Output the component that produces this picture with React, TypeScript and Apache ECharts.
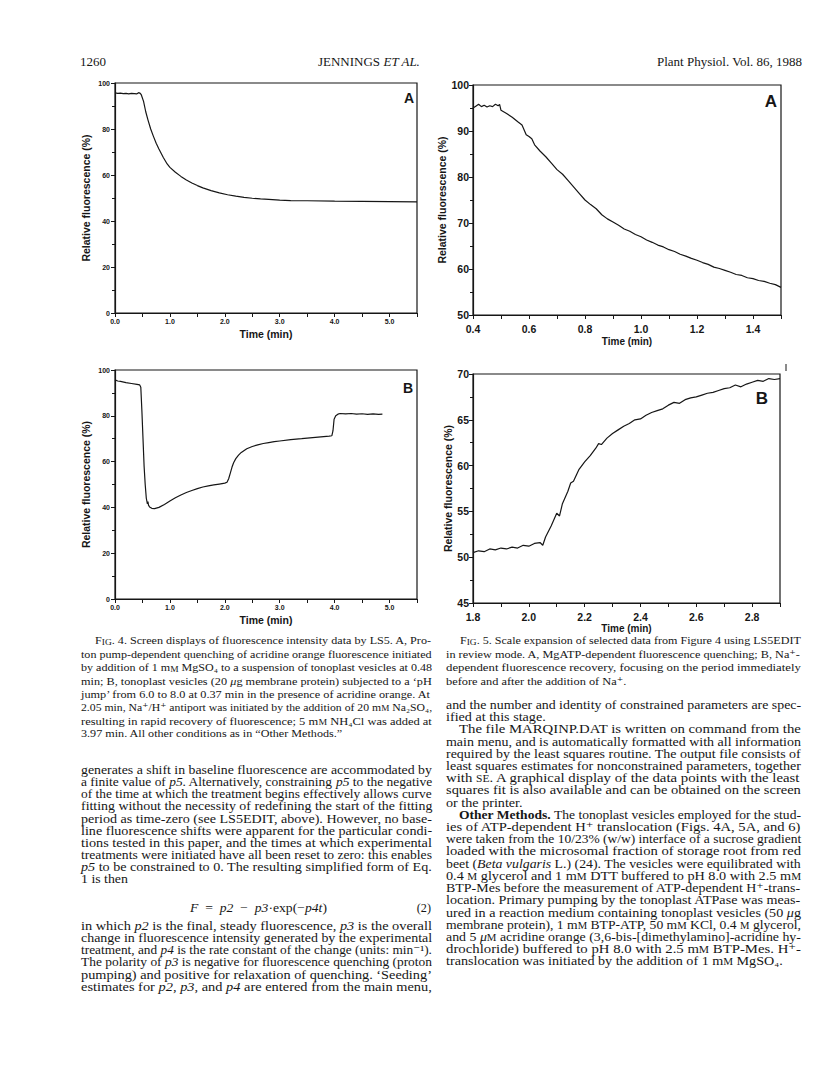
import { useEffect, useRef } from 'react';
import * as echarts from 'echarts';

// ---------- data ----------
// Fig. 4A: time (min), relative fluorescence (%)
const fig4A: [number, number][] = [
  [0.0, 95.7], [0.05, 95.5], [0.1, 95.6], [0.15, 95.4], [0.2, 95.5], [0.25, 95.3], [0.3, 95.5],
  [0.35, 95.4], [0.4, 95.3], [0.43, 95.8], [0.46, 95.5], [0.48, 94.8], [0.52, 92.0], [0.56, 87.5],
  [0.6, 84.0], [0.65, 80.0], [0.7, 76.8], [0.75, 73.8], [0.8, 71.3], [0.88, 67.6], [0.95, 64.8],
  [1.0, 63.3], [1.1, 61.2], [1.2, 59.4], [1.3, 57.8], [1.4, 56.5], [1.5, 55.4], [1.6, 54.4],
  [1.75, 53.2], [1.9, 52.2], [2.05, 51.4], [2.2, 50.8], [2.35, 50.3], [2.5, 49.9], [2.65, 49.6],
  [2.8, 49.4], [3.0, 49.1], [3.2, 48.9], [3.5, 48.8], [4.0, 48.6], [4.5, 48.5], [5.0, 48.4], [5.5, 48.3],
];

// Fig. 4B
const fig4B: [number, number][] = [
  [0.0, 95.7], [0.05, 95.2], [0.1, 95.0], [0.2, 94.5], [0.3, 94.1], [0.4, 93.7], [0.45, 93.5],
  [0.47, 92.5], [0.49, 82.0], [0.51, 70.0], [0.53, 58.0], [0.55, 50.0], [0.57, 44.0], [0.59, 41.5],
  [0.6, 42.5], [0.61, 41.0], [0.63, 40.2], [0.67, 39.6], [0.72, 39.5], [0.8, 40.0], [0.9, 41.3],
  [1.0, 42.8], [1.1, 44.2], [1.2, 45.4], [1.3, 46.5], [1.4, 47.4], [1.5, 48.2], [1.6, 48.9],
  [1.7, 49.4], [1.8, 49.8], [1.9, 50.2], [2.0, 50.6], [2.04, 51.0], [2.07, 52.5], [2.1, 55.0],
  [2.13, 57.5], [2.16, 59.5], [2.2, 61.3], [2.25, 62.8], [2.3, 64.0], [2.4, 65.6], [2.5, 66.6],
  [2.6, 67.3], [2.7, 67.9], [2.8, 68.3], [2.9, 68.7], [3.0, 69.0], [3.2, 69.6], [3.4, 70.0],
  [3.6, 70.5], [3.8, 70.9], [3.9, 71.1], [3.95, 71.3], [3.97, 73.5], [3.99, 78.5], [4.02, 80.0],
  [4.06, 80.7], [4.1, 81.0], [4.2, 80.8], [4.3, 81.0], [4.4, 80.7], [4.5, 80.9], [4.6, 80.6],
  [4.7, 80.8], [4.8, 80.6], [4.87, 80.7],
];

// Fig. 5A
const fig5A: [number, number][] = [
  [0.4, 95.0], [0.41, 95.4], [0.42, 95.8], [0.43, 95.3], [0.44, 95.6], [0.45, 95.2], [0.46, 95.5],
  [0.47, 95.3], [0.48, 95.8], [0.49, 95.5], [0.495, 95.8], [0.5, 94.5], [0.52, 93.8], [0.54, 93.0],
  [0.56, 92.0], [0.575, 91.3], [0.59, 89.2], [0.6, 88.8], [0.61, 88.3], [0.62, 87.0], [0.64, 85.6],
  [0.66, 84.4], [0.68, 83.0], [0.7, 81.6], [0.72, 80.6], [0.74, 79.2], [0.76, 77.8], [0.78, 76.4],
  [0.8, 75.0], [0.82, 74.0], [0.84, 73.1], [0.86, 71.8], [0.88, 70.9], [0.9, 70.2], [0.92, 69.5],
  [0.94, 68.7], [0.96, 68.2], [0.98, 67.5], [1.0, 67.0], [1.02, 66.3], [1.04, 65.8], [1.06, 65.2],
  [1.08, 64.8], [1.1, 64.2], [1.12, 63.8], [1.14, 63.2], [1.16, 62.8], [1.18, 62.3], [1.2, 61.9],
  [1.22, 61.4], [1.24, 61.0], [1.26, 60.4], [1.28, 60.1], [1.3, 59.7], [1.32, 59.3], [1.34, 58.8],
  [1.36, 58.6], [1.38, 58.1], [1.4, 57.9], [1.42, 57.5], [1.44, 57.3], [1.46, 56.9], [1.48, 56.6],
  [1.5, 56.0],
];

// Fig. 5B
const fig5B: [number, number][] = [
  [1.8, 50.5], [1.82, 50.7], [1.84, 50.6], [1.86, 50.9], [1.88, 50.8], [1.9, 51.0], [1.92, 50.9],
  [1.94, 51.1], [1.96, 51.0], [1.98, 51.3], [2.0, 51.2], [2.02, 51.5], [2.04, 51.6], [2.05, 51.3],
  [2.06, 52.2], [2.08, 53.4], [2.1, 54.8], [2.11, 54.5], [2.12, 55.8], [2.14, 57.2], [2.15, 58.1],
  [2.16, 58.3], [2.18, 59.6], [2.2, 60.4], [2.22, 61.1], [2.24, 61.9], [2.25, 62.4], [2.26, 62.3],
  [2.28, 63.0], [2.3, 63.5], [2.32, 63.9], [2.34, 64.3], [2.36, 64.6], [2.38, 65.0], [2.4, 65.1],
  [2.42, 65.5], [2.44, 65.8], [2.46, 66.0], [2.48, 66.2], [2.5, 66.6], [2.52, 66.9], [2.54, 66.8],
  [2.56, 67.2], [2.58, 67.4], [2.6, 67.5], [2.62, 67.7], [2.64, 67.9], [2.66, 68.0], [2.68, 68.2],
  [2.7, 68.4], [2.72, 68.5], [2.74, 68.8], [2.76, 68.6], [2.78, 68.9], [2.8, 69.1], [2.82, 69.3],
  [2.84, 69.2], [2.86, 69.5], [2.88, 69.4], [2.9, 69.5],
];

// axis ranges / tick steps
const fig4Time = { min: 0, max: 5.5, step: 0.5 };
const fig4Fluor = { min: 0, max: 100, step: 20 };
const fig5ATime = { min: 0.4, max: 1.5, step: 0.1 };
const fig5AFluor = { min: 50, max: 100, step: 10 };
const fig5BTime = { min: 1.8, max: 2.9, step: 0.1 };
const fig5BFluor = { min: 45, max: 70, step: 5 };

const X_NAME = 'Time (min)';
const Y_NAME = 'Relative fluorescence (%)';

// ---------- page text ----------
type Line = { t: string; nj?: boolean; ind?: number };

const caption4: Line[] = [
  { t: 'F{sc|IG}. 4. Screen displays of fluorescence intensity data by LS5. A, Pro-', ind: 14 },
  { t: 'ton pump-dependent quenching of acridine orange fluorescence initiated' },
  { t: 'by addition of 1 m{sc|M} MgSO₄ to a suspension of tonoplast vesicles at 0.48' },
  { t: 'min; B, tonoplast vesicles (20 {i|μ}g membrane protein) subjected to a ‘pH' },
  { t: 'jump’ from 6.0 to 8.0 at 0.37 min in the presence of acridine orange. At' },
  { t: '2.05 min, Na⁺/H⁺ antiport was initiated by the addition of 20 m{sc|M} Na₂SO₄,' },
  { t: 'resulting in rapid recovery of fluorescence; 5 m{sc|M} NH₄Cl was added at' },
  { t: '3.97 min. All other conditions as in “Other Methods.”', nj: true },
];

const caption5: Line[] = [
  { t: 'F{sc|IG}. 5. Scale expansion of selected data from Figure 4 using LS5EDIT', ind: 14 },
  { t: 'in review mode. A, MgATP-dependent fluorescence quenching; B, Na⁺-' },
  { t: 'dependent fluorescence recovery, focusing on the period immediately' },
  { t: 'before and after the addition of Na⁺.', nj: true },
];

const leftBody1: Line[] = [
  { t: 'generates a shift in baseline fluorescence are accommodated by' },
  { t: 'a finite value of {i|p5}. Alternatively, constraining {i|p5} to the negative' },
  { t: 'of the time at which the treatment begins effectively allows curve' },
  { t: 'fitting without the necessity of redefining the start of the fitting' },
  { t: 'period as time-zero (see LS5EDIT, above). However, no base-' },
  { t: 'line fluorescence shifts were apparent for the particular condi-' },
  { t: 'tions tested in this paper, and the times at which experimental' },
  { t: 'treatments were initiated have all been reset to zero: this enables' },
  { t: '{i|p5} to be constrained to 0. The resulting simplified form of Eq.' },
  { t: '1 is then', nj: true },
];

const equation = '{i|F}\u00a0\u00a0=\u00a0\u00a0{i|p2}\u00a0\u00a0−\u00a0\u00a0{i|p3}·exp(−{i|p4t})';
const equationNo = '(2)';

const leftBody2: Line[] = [
  { t: 'in which {i|p2} is the final, steady fluorescence, {i|p3} is the overall' },
  { t: 'change in fluorescence intensity generated by the experimental' },
  { t: 'treatment, and {i|p4} is the rate constant of the change (units: min⁻¹).' },
  { t: 'The polarity of {i|p3} is negative for fluorescence quenching (proton' },
  { t: 'pumping) and positive for relaxation of quenching. ‘Seeding’' },
  { t: 'estimates for {i|p2}, {i|p3}, and {i|p4} are entered from the main menu,' },
];

const rightBody: Line[] = [
  { t: 'and the number and identity of constrained parameters are spec-' },
  { t: 'ified at this stage.', nj: true },
  { t: 'The file MARQINP.DAT is written on command from the', ind: 13 },
  { t: 'main menu, and is automatically formatted with all information' },
  { t: 'required by the least squares routine. The output file consists of' },
  { t: 'least squares estimates for nonconstrained parameters, together' },
  { t: 'with {sc|SE}. A graphical display of the data points with the least' },
  { t: 'squares fit is also available and can be obtained on the screen' },
  { t: 'or the printer.', nj: true },
  { t: '{b|Other Methods.} The tonoplast vesicles employed for the stud-', ind: 13 },
  { t: 'ies of ATP-dependent H⁺ translocation (Figs. 4A, 5A, and 6)' },
  { t: 'were taken from the 10/23% (w/w) interface of a sucrose gradient' },
  { t: 'loaded with the microsomal fraction of storage root from red' },
  { t: 'beet ({i|Beta vulgaris} L.) (24). The vesicles were equilibrated with' },
  { t: '0.4 {sc|M} glycerol and 1 m{sc|M} DTT buffered to pH 8.0 with 2.5 m{sc|M}' },
  { t: 'BTP-Mes before the measurement of ATP-dependent H⁺-trans-' },
  { t: 'location. Primary pumping by the tonoplast ATPase was meas-' },
  { t: 'ured in a reaction medium containing tonoplast vesicles (50 {i|μ}g' },
  { t: 'membrane protein), 1 m{sc|M} BTP-ATP, 50 m{sc|M} KCl, 0.4 {sc|M} glycerol,' },
  { t: 'and 5 {i|μ}{sc|M} acridine orange (3,6-bis-[dimethylamino]-acridine hy-' },
  { t: 'drochloride) buffered to pH 8.0 with 2.5 m{sc|M} BTP-Mes. H⁺-' },
  { t: 'translocation was initiated by the addition of 1 m{sc|M} MgSO₄.', nj: true },
];

// ---------- styling ----------
const SERIF = '"Liberation Serif", "DejaVu Serif", "Times New Roman", serif';
const SANS = '"Liberation Sans", Arial, "DejaVu Sans", sans-serif';
const INK = '#161616';

function cssFont(style: string, size: number) {
  if (style === 'i') return `italic ${size}px ${SERIF}`;
  if (style === 'b') return `bold ${size}px ${SERIF}`;
  if (style === 'sc') return `${(size * 0.78).toFixed(2)}px ${SERIF}`;
  return `${size}px ${SERIF}`;
}

function measureMarkup(ctx: CanvasRenderingContext2D, t: string, size: number) {
  const re = /\{(\w+)\|([^}]*)\}|([^{]+)/g;
  let w = 0;
  let m: RegExpExecArray | null;
  while ((m = re.exec(t)) !== null) {
    const st = m[1] ? m[1] : 'n';
    const txt = m[1] ? m[2] : m[3];
    ctx.font = cssFont(st, size);
    w += ctx.measureText(txt).width;
  }
  return w;
}

function richFor(size: number) {
  return {
    i: { fontFamily: SERIF, fontSize: size, fontStyle: 'italic', fill: INK },
    b: { fontFamily: SERIF, fontSize: size, fontWeight: 'bold', fill: INK },
    sc: { fontFamily: SERIF, fontSize: +(size * 0.78).toFixed(2), fill: INK, verticalAlign: 'bottom' },
  };
}

function textBlock(
  ctx: CanvasRenderingContext2D,
  lines: Line[],
  x0: number,
  width: number,
  y0: number,
  dy: number,
  size: number
) {
  const scales = lines.map((l) => (width - (l.ind || 0)) / measureMarkup(ctx, l.t, size));
  const js = scales.filter((_, i) => !lines[i].nj);
  const avg = js.length ? js.reduce((a, b) => a + b, 0) / js.length : 1;
  return lines.map((l, i) => ({
    type: 'text',
    x: x0 + (l.ind || 0),
    y: y0 + i * dy,
    scaleX: l.nj ? avg : scales[i],
    silent: true,
    style: {
      text: l.t,
      fontFamily: SERIF,
      fontSize: size,
      fill: INK,
      align: 'left',
      verticalAlign: 'middle',
      rich: richFor(size),
    },
  }));
}

function stepLabel(v: number, scale: number, every: number, digits: number) {
  const k = Math.round(v * scale);
  return k % every === 0 ? (k / scale).toFixed(digits) : '';
}

function makeAxes(
  gi: number,
  xr: { min: number; max: number; step: number },
  yr: { min: number; max: number; step: number },
  small: boolean,
  xFmt: (v: number) => string,
  gaps: { xLabel: number; xName: number; yName: number; yLabel: number }
) {
  const labelFont = small ? 7 : 10.5;
  const nameFont = small ? 10.5 : 10;
  const line = { color: INK, width: 1.2 };
  const x = {
    gridIndex: gi,
    type: 'value',
    min: xr.min,
    max: xr.max,
    interval: xr.step,
    axisLine: { show: true, onZero: false, lineStyle: line },
    axisTick: { show: true, inside: false, length: 4, lineStyle: { color: INK, width: 1 } },
    splitLine: { show: false },
    axisLabel: {
      formatter: xFmt,
      fontSize: labelFont,
      fontWeight: 'bold',
      fontFamily: SANS,
      color: INK,
      margin: gaps.xLabel,
      showMaxLabel: true,
    },
    name: X_NAME,
    nameLocation: 'middle',
    nameGap: gaps.xName,
    nameTextStyle: { fontSize: nameFont, fontWeight: 'bold', fontFamily: SANS, color: INK },
  };
  const y = {
    gridIndex: gi,
    type: 'value',
    min: yr.min,
    max: yr.max,
    interval: yr.step,
    axisLine: { show: true, onZero: false, lineStyle: line },
    axisTick: { show: true, inside: false, length: 4, lineStyle: { color: INK, width: 1 } },
    minorTick: { show: true, splitNumber: 2, length: 3, lineStyle: { color: INK, width: 1 } },
    splitLine: { show: false },
    minorSplitLine: { show: false },
    axisLabel: {
      fontSize: labelFont,
      fontWeight: 'bold',
      fontFamily: SANS,
      color: INK,
      margin: gaps.yLabel,
    },
    name: Y_NAME,
    nameLocation: 'middle',
    nameGap: gaps.yName,
    nameTextStyle: { fontSize: 10.5, fontWeight: 'bold', fontFamily: SANS, color: INK },
  };
  return { x, y };
}

function lineSeries(idx: number, data: [number, number][]) {
  return {
    type: 'line',
    xAxisIndex: idx,
    yAxisIndex: idx,
    data,
    showSymbol: false,
    symbol: 'none',
    silent: true,
    lineStyle: { color: INK, width: 1.2 },
  };
}

export default function App() {
  const ref = useRef<HTMLDivElement>(null);

  useEffect(() => {
    if (!ref.current) return;
    document.body.style.margin = '0';
    const chart = echarts.init(ref.current, undefined, { renderer: 'svg' });
    const canvas = document.createElement('canvas');
    const ctx = canvas.getContext('2d') as CanvasRenderingContext2D;

    const fmt4 = (v: number) => stepLabel(v, 10, 10, 1);
    const fmt5 = (v: number) => stepLabel(v, 10, 2, 1);

    const a0 = makeAxes(0, fig4Time, fig4Fluor, true, fmt4, { xLabel: 5, xName: 15, yName: 24, yLabel: 5 });
    const a1 = makeAxes(1, fig5ATime, fig5AFluor, false, fmt5, { xLabel: 8, xName: 21, yName: 16, yLabel: 4 });
    const a2 = makeAxes(2, fig4Time, fig4Fluor, true, fmt4, { xLabel: 5, xName: 15, yName: 24, yLabel: 5 });
    const a3 = makeAxes(3, fig5BTime, fig5BFluor, false, fmt5, { xLabel: 8, xName: 20, yName: 16, yLabel: 4 });

    const grids = [
      { left: 115, top: 83, width: 302, height: 230 },
      { left: 473, top: 85, width: 308, height: 230 },
      { left: 115, top: 370, width: 302, height: 229 },
      { left: 473, top: 374, width: 307, height: 229 },
    ].map((g) => ({ ...g, show: true, borderColor: INK, borderWidth: 1.2, backgroundColor: 'transparent' }));

    const BODY = 12.2;
    const CAP = 11.3;
    const LEFT_X = 81;
    const LEFT_W = 351;
    const RIGHT_X = 446;
    const RIGHT_W = 355;

    const eqW = measureMarkup(ctx, equation, BODY);

    const graphics: any[] = [
      // running head
      { type: 'text', x: 80, y: 61, silent: true, style: { text: '1260', fontFamily: SERIF, fontSize: 13, fill: INK, align: 'left', verticalAlign: 'middle' } },
      { type: 'text', x: 369, y: 61, silent: true, style: { text: 'JENNINGS {i|ET AL.}', fontFamily: SERIF, fontSize: 13, fill: INK, align: 'center', verticalAlign: 'middle', rich: richFor(13) } },
      { type: 'text', x: 802, y: 61, silent: true, style: { text: 'Plant Physiol. Vol. 86, 1988', fontFamily: SERIF, fontSize: 13, fill: INK, align: 'right', verticalAlign: 'middle' } },
      // panel letters
      { type: 'text', x: 409, y: 98, silent: true, style: { text: 'A', fontFamily: SANS, fontSize: 14, fontWeight: 900, fill: INK, align: 'center', verticalAlign: 'middle' } },
      { type: 'text', x: 771, y: 101, silent: true, style: { text: 'A', fontFamily: SANS, fontSize: 17, fontWeight: 900, fill: INK, align: 'center', verticalAlign: 'middle' } },
      { type: 'text', x: 408, y: 388, silent: true, style: { text: 'B', fontFamily: SANS, fontSize: 14, fontWeight: 900, fill: INK, align: 'center', verticalAlign: 'middle' } },
      { type: 'text', x: 762, y: 398, silent: true, style: { text: 'B', fontFamily: SANS, fontSize: 17, fontWeight: 900, fill: INK, align: 'center', verticalAlign: 'middle' } },
      { type: 'line', silent: true, shape: { x1: 786, y1: 364, x2: 786, y2: 371 }, style: { stroke: INK, lineWidth: 1 } },
      // equation
      { type: 'text', x: 190, y: 908, scaleX: 137 / eqW, silent: true, style: { text: equation, fontFamily: SERIF, fontSize: BODY, fill: INK, align: 'left', verticalAlign: 'middle', rich: richFor(BODY) } },
      { type: 'text', x: 431, y: 908, silent: true, style: { text: equationNo, fontFamily: SERIF, fontSize: BODY, fill: INK, align: 'right', verticalAlign: 'middle' } },
      ...textBlock(ctx, caption4, LEFT_X, LEFT_W, 641, 13.3, CAP),
      ...textBlock(ctx, caption5, RIGHT_X, RIGHT_W, 641, 13.3, CAP),
      ...textBlock(ctx, leftBody1, LEFT_X, LEFT_W, 770, 12.1, BODY),
      ...textBlock(ctx, leftBody2, LEFT_X, LEFT_W, 926, 12.1, BODY),
      ...textBlock(ctx, rightBody, RIGHT_X, RIGHT_W, 705, 12.2, BODY),
    ];

    chart.setOption({
      animation: false,
      backgroundColor: '#ffffff',
      grid: grids,
      xAxis: [a0.x, a1.x, a2.x, a3.x],
      yAxis: [a0.y, a1.y, a2.y, a3.y],
      series: [lineSeries(0, fig4A), lineSeries(1, fig5A), lineSeries(2, fig4B), lineSeries(3, fig5B)],
      graphic: { elements: graphics },
    });

    return () => {
      chart.dispose();
    };
  }, []);

  return (
    <div
      ref={ref}
      style={{ position: 'absolute', left: 0, top: 0, width: 816, height: 1073, background: '#fff' }}
    />
  );
}
